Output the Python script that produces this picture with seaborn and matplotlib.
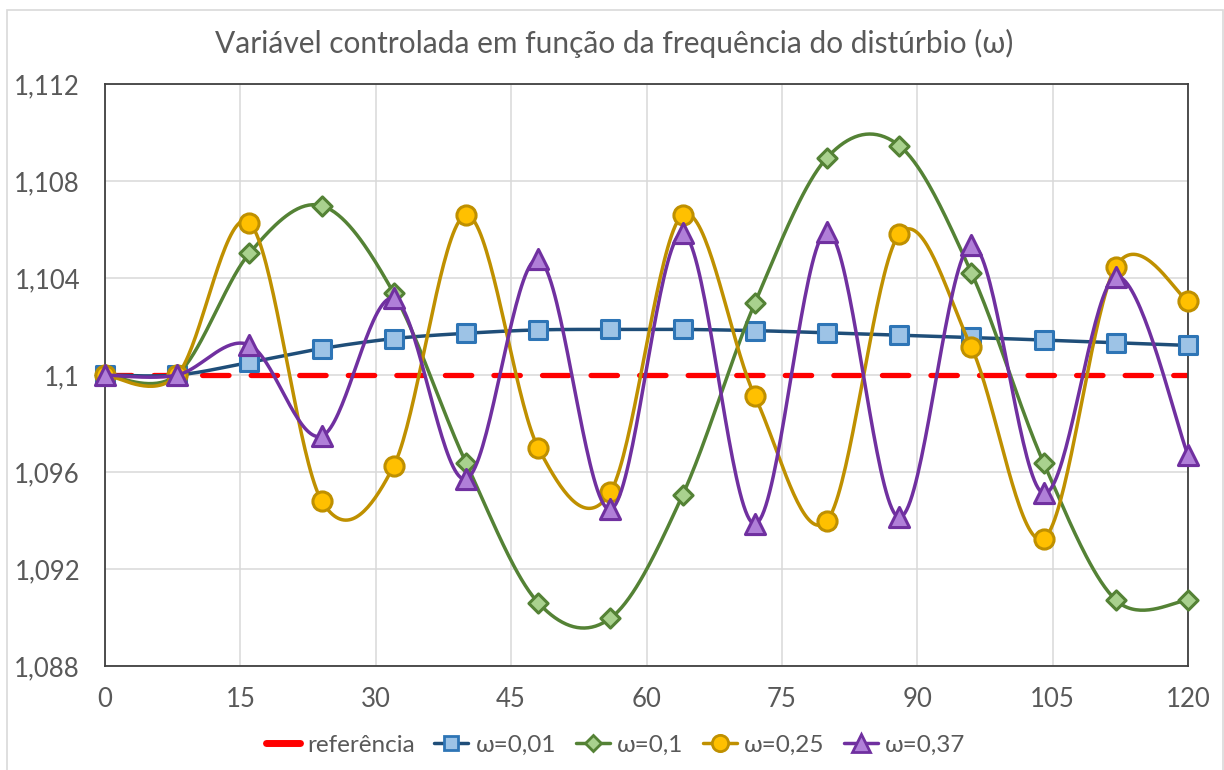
import numpy as np
import pandas as pd
import matplotlib
matplotlib.use("Agg")
import matplotlib.pyplot as plt
from matplotlib.lines import Line2D
from matplotlib.patches import Rectangle
from matplotlib.ticker import FixedLocator, FuncFormatter
import seaborn as sns

# ---------------- data ----------------
x_vals = [0, 8, 16, 24, 32, 40, 48, 56, 64, 72, 80, 88, 96, 104, 112, 120]
referencia = [1.1] * 16
w001 = [1.1000, 1.1000, 1.10052, 1.10109, 1.10150, 1.10172, 1.10186, 1.10188,
        1.10188, 1.10183, 1.10174, 1.10164, 1.10155, 1.10144, 1.10133, 1.10122]
w01 = [1.1000, 1.10002, 1.10502, 1.10698, 1.10337, 1.09638, 1.09061, 1.08997,
       1.09505, 1.10296, 1.10896, 1.10946, 1.10422, 1.09638, 1.09072, 1.09072]
w025 = [1.1000, 1.1000, 1.10628, 1.09482, 1.09626, 1.10659, 1.09700, 1.09517,
        1.10660, 1.09913, 1.09399, 1.10580, 1.10114, 1.09325, 1.10447, 1.10305]
w037 = [1.1000, 1.1000, 1.10124, 1.09748, 1.10316, 1.09571, 1.10477, 1.09446,
        1.10584, 1.09386, 1.10591, 1.09413, 1.10536, 1.09512, 1.10405, 1.09670]
series_labels = ["ω=0,01", "ω=0,1", "ω=0,25", "ω=0,37"]
ref_label = "referência"
title = "Variável controlada em função da frequência do distúrbio (ω)"
x_ticks = [0, 15, 30, 45, 60, 75, 90, 105, 120]
y_ticks = [1.088, 1.092, 1.096, 1.1, 1.104, 1.108, 1.112]

# ---------------- style ----------------
sns.set_theme(style="white")
plt.rcParams["font.family"] = ["Lato", "DejaVu Sans"]
txt_color = "#595959"

styles = [
    dict(line="#1F4E79", face="#9DC3E6", edge="#2E75B6", marker="s", s=150),
    dict(line="#548235", face="#A9D18E", edge="#548235", marker="D", s=95),
    dict(line="#BF9000", face="#FFC000", edge="#BF9000", marker="o", s=190),
    dict(line="#7030A0", face="#B07FD8", edge="#7030A0", marker="^", s=210),
]


def smooth_curve(x, y, n=40):
    """Excel-like smoothed line (Catmull-Rom Bezier) through the data points."""
    pts = np.column_stack([np.asarray(x, float), np.asarray(y, float)])
    out = []
    t = np.linspace(0, 1, n)[:, None]
    for i in range(len(pts) - 1):
        p0 = pts[i - 1] if i > 0 else pts[i]
        p1, p2 = pts[i], pts[i + 1]
        p3 = pts[i + 2] if i + 2 < len(pts) else pts[i + 1]
        c1 = p1 + (p2 - p0) / 6.0
        c2 = p2 - (p3 - p1) / 6.0
        seg = ((1 - t) ** 3) * p1 + 3 * ((1 - t) ** 2) * t * c1 + 3 * (1 - t) * t ** 2 * c2 + t ** 3 * p2
        out.append(seg if i == 0 else seg[1:])
    out = np.vstack(out)
    return out[:, 0], out[:, 1]


fig = plt.figure(figsize=(12.24, 7.70), dpi=100)
fig.patch.set_facecolor("white")
ax = fig.add_axes([105 / 1224, 1 - 666 / 770, (1188 - 105) / 1224, (666 - 84) / 770])

# chart-area border
fig.add_artist(Rectangle((7 / 1224, -0.1), (1223 - 7) / 1224, 1.1 - 10 / 770,
                         transform=fig.transFigure, fill=False, edgecolor="#D9D9D9",
                         linewidth=1.2, zorder=0))

# reference line
ref_df = pd.DataFrame({"x": x_vals, "y": referencia})
sns.lineplot(data=ref_df, x="x", y="y", ax=ax, color="#FF0000", linewidth=3.8,
             zorder=2, legend=False)
ax.lines[-1].set_dashes([5.0, 4.2])
ax.lines[-1].set_dash_capstyle("round")

all_series = [w001, w01, w025, w037]
for i, (vals, st) in enumerate(zip(all_series, styles)):
    xs, ys = smooth_curve(x_vals, vals)
    sdf = pd.DataFrame({"x": xs, "y": ys})
    sns.lineplot(data=sdf, x="x", y="y", ax=ax, color=st["line"], linewidth=2.5,
                 sort=False, estimator=None, zorder=3 + 2 * i, legend=False)
    pdf = pd.DataFrame({"x": x_vals, "y": vals})
    sns.scatterplot(data=pdf, x="x", y="y", ax=ax, marker=st["marker"], s=st["s"],
                    color=st["face"], edgecolor=st["edge"], linewidth=2.2,
                    zorder=4 + 2 * i, legend=False, clip_on=False)

ax.set_xlim(0, 120)
ax.set_ylim(1.088, 1.112)
ax.xaxis.set_major_locator(FixedLocator(x_ticks))
ax.yaxis.set_major_locator(FixedLocator(y_ticks))


def yfmt(v, pos):
    s = ("%.3f" % v).rstrip("0").rstrip(".")
    return s.replace(".", ",")


ax.yaxis.set_major_formatter(FuncFormatter(yfmt))
ax.xaxis.set_major_formatter(FuncFormatter(lambda v, p: "%d" % v))
ax.grid(True, color="#D9D9D9", linewidth=1.1)
ax.set_axisbelow(True)
for sp in ax.spines.values():
    sp.set_visible(True)
    sp.set_color("#404040")
    sp.set_linewidth(1.3)
ax.tick_params(axis="both", length=0, labelsize=18.5, labelcolor=txt_color)
ax.tick_params(axis="x", pad=15)
ax.tick_params(axis="y", pad=18)
ax.set_xlabel("")
ax.set_ylabel("")

fig.text(0.502, 1 - 43 / 770, title, ha="center", va="center", fontsize=21.5,
         color=txt_color)

handles = [Line2D([], [], color="#FF0000", linewidth=5, solid_capstyle="round")]
for st in styles:
    handles.append(Line2D([], [], color=st["line"], linewidth=2.5, marker=st["marker"],
                          markersize=np.sqrt(st["s"]) * 0.85, markerfacecolor=st["face"],
                          markeredgecolor=st["edge"], markeredgewidth=2.0))
fig.legend(handles, [ref_label] + series_labels, loc="center",
           bbox_to_anchor=(0.503, 1 - 745 / 770), ncol=5, frameon=False,
           fontsize=17.5, labelcolor=txt_color, handlelength=1.4, handletextpad=0.3,
           columnspacing=0.8, borderpad=0)

fig.savefig("out.png", dpi=100, facecolor="white")
